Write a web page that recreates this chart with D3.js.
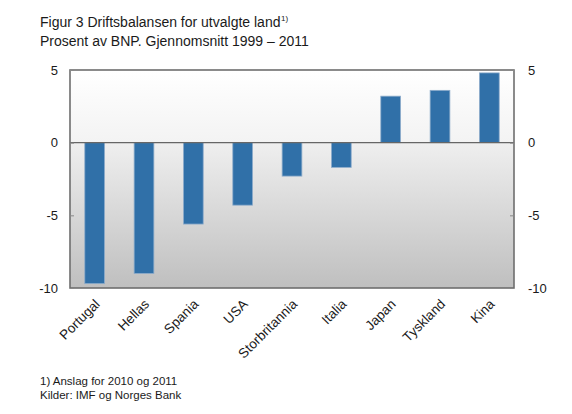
<!DOCTYPE html>
<html><head><meta charset="utf-8">
<script src="https://cdn.jsdelivr.net/npm/d3@7"></script>
<style>body{margin:0;background:#fff;} svg{display:block;} text{font-family:"Liberation Sans",Arial,sans-serif;fill:#1a1a1a;}</style>
</head><body>
<svg id="c" width="572" height="414"></svg>
<script>
const categories = ["Portugal","Hellas","Spania","USA","Storbritannia","Italia","Japan","Tyskland","Kina"];
const values = [-9.7,-9.0,-5.6,-4.3,-2.3,-1.7,3.2,3.6,4.8];
const tickValues = [5,0,-5,-10];
const titleLines = ["Figur 3 Driftsbalansen for utvalgte land","Prosent av BNP. Gjennomsnitt 1999 – 2011"];
const footLines = ["1) Anslag for 2010 og 2011","Kilder: IMF og Norges Bank"];

const svg = d3.select("#c");
const m = {l:70, r:58, t:70, b:126};
const W = 572, H = 414;
const iw = W - m.l - m.r, ih = H - m.t - m.b;

const x = d3.scaleBand().domain(categories).range([m.l, m.l+iw]).paddingInner(0.6).paddingOuter(0.3);
const y = d3.scaleLinear().domain([-10,5]).range([m.t+ih, m.t]);

const defs = svg.append("defs");
const g = defs.append("linearGradient").attr("id","bg").attr("x1",0).attr("y1",0).attr("x2",0).attr("y2",1);
const zf = (y(0)-m.t)/ih;
g.append("stop").attr("offset",0).attr("stop-color","#ffffff");
g.append("stop").attr("offset",zf).attr("stop-color","#f3f3f3");
g.append("stop").attr("offset",zf+0.001).attr("stop-color","#efefef");
g.append("stop").attr("offset",1).attr("stop-color","#bfbfbf");

svg.append("rect").attr("x",m.l).attr("y",m.t).attr("width",iw).attr("height",ih).attr("fill","url(#bg)");

// bars
svg.append("g").selectAll("rect").data(values).join("rect")
  .attr("x",(d,i)=>x(categories[i]))
  .attr("width",x.bandwidth())
  .attr("y",d=>y(Math.max(0,d)))
  .attr("height",d=>Math.abs(y(d)-y(0)))
  .attr("fill","#3070a8")
  .attr("stroke","#8eaccb").attr("stroke-width",0.8);

// zero line
svg.append("line").attr("x1",m.l).attr("x2",m.l+iw).attr("y1",y(0)).attr("y2",y(0)).attr("stroke","#666").attr("stroke-width",1.3);

// frame
svg.append("rect").attr("x",m.l).attr("y",m.t).attr("width",iw).attr("height",ih).attr("fill","none").attr("stroke","#6e6e6e").attr("stroke-width",1.6);

// axes
const fmt = d => String(d);
const la = d3.axisLeft(y).tickValues(tickValues).tickSize(-4).tickPadding(12).tickFormat(fmt);
const ra = d3.axisRight(y).tickValues(tickValues).tickSize(-4).tickPadding(14).tickFormat(fmt);
const gl = svg.append("g").attr("transform",`translate(${m.l},0)`).call(la);
const gr = svg.append("g").attr("transform",`translate(${m.l+iw},0)`).call(ra);
[gl,gr].forEach(a=>{
  a.select(".domain").remove();
  a.selectAll(".tick line").attr("stroke","#888");
  a.selectAll("text").attr("font-size",13).style("fill","#1a1a1a");
});

// category labels
const xa = d3.axisBottom(x).tickSize(0).tickPadding(0);
const gx = svg.append("g").attr("transform",`translate(0,${m.t+ih})`).call(xa);
gx.select(".domain").remove();
gx.selectAll("text").attr("font-size",13.5).style("fill","#1a1a1a")
  .attr("text-anchor","end").attr("dy",null).attr("y",0)
  .attr("transform","translate(6,17) rotate(-45)");

// title
const tt = svg.append("g").selectAll("text").data(titleLines).join("text")
  .attr("x",40).attr("y",(d,i)=>27+i*19).attr("font-size",14).text(d=>d);
const tlen = tt.nodes()[0].getComputedTextLength();
svg.append("text").attr("x",40 + tlen + 0.5).attr("y",21).attr("font-size",8).text("1)");

// footnotes
svg.append("g").selectAll("text").data(footLines).join("text")
  .attr("x",40).attr("y",(d,i)=>385+i*14).attr("font-size",11.5).text(d=>d);
</script>
</body></html>
